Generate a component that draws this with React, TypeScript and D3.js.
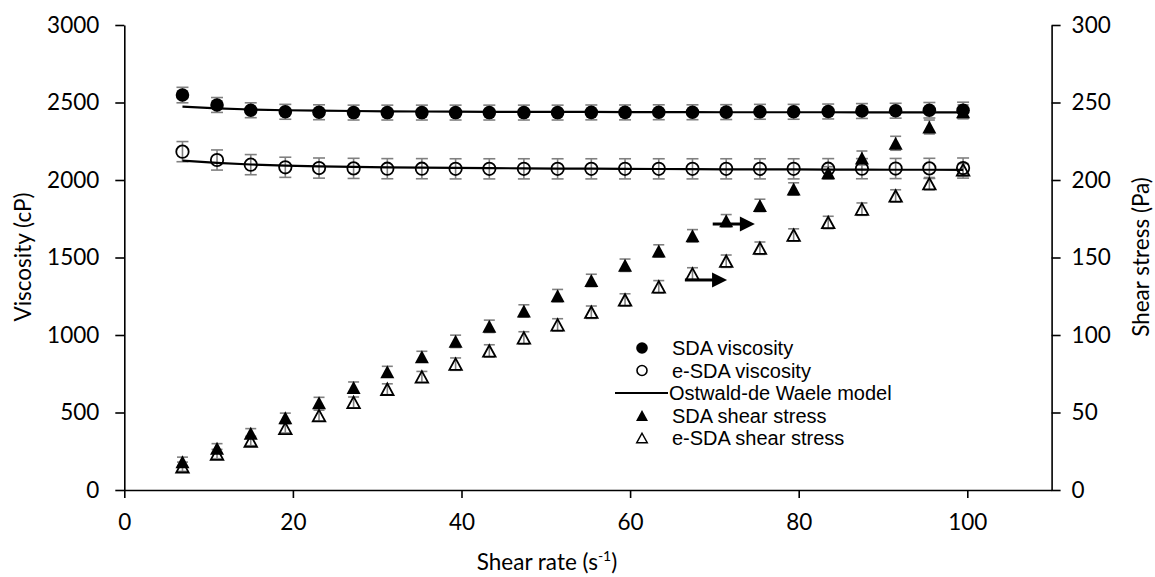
import React, { useEffect, useRef } from "react";
import * as d3 from "d3";

// ---------- data ----------
const shearRate = [6.9, 11.0, 15.0, 19.1, 23.1, 27.2, 31.2, 35.3, 39.3, 43.3, 47.4, 51.4, 55.4, 59.4, 63.4, 67.4, 71.4, 75.4, 79.4, 83.5, 87.5, 91.5, 95.5, 99.5];

const sdaViscosity = [2548, 2484, 2450, 2440, 2437, 2435, 2435, 2435, 2435, 2435, 2435, 2435, 2436, 2436, 2437, 2437, 2438, 2440, 2440, 2442, 2445, 2447, 2450, 2450];
const sdaViscosityErr = [50, 48, 48, 48, 48, 48, 48, 48, 48, 48, 48, 48, 48, 48, 48, 48, 48, 48, 48, 48, 48, 48, 50, 52];

const esdaViscosity = [2183, 2129, 2099, 2082, 2077, 2075, 2073, 2073, 2072, 2072, 2072, 2072, 2072, 2072, 2072, 2072, 2072, 2072, 2072, 2073, 2073, 2074, 2075, 2077];
const esdaViscosityErr = [65, 65, 65, 65, 65, 65, 65, 65, 65, 65, 65, 65, 65, 65, 65, 65, 65, 65, 65, 65, 65, 65, 65, 65];

const sdaModel = [2473, 2462, 2455, 2450, 2447, 2445, 2443, 2442, 2441, 2440, 2440, 2439, 2439, 2438, 2438, 2438, 2437, 2437, 2437, 2437, 2436, 2436, 2436, 2436];
const esdaModel = [2125, 2110, 2100, 2093, 2088, 2085, 2082, 2080, 2078, 2077, 2075, 2074, 2073, 2072, 2071, 2070, 2069, 2069, 2068, 2067, 2067, 2066, 2066, 2065];

const sdaStress = [18.2, 26.9, 36.6, 46.6, 56.3, 66.2, 76.3, 86.0, 95.9, 105.6, 115.5, 125.4, 135.2, 145.0, 154.2, 164.0, 173.7, 183.6, 194.2, 204.6, 214.2, 223.7, 234.2, 244.0];
const sdaStressErr = [3, 3, 3, 3, 3.5, 3.5, 3.5, 3.5, 4, 4, 4, 4, 4, 4, 4, 4, 4, 4, 4, 4, 4.5, 4.5, 4.5, 4.5];
const esdaStress = [15.0, 23.2, 31.6, 39.8, 48.0, 56.5, 65.0, 73.0, 81.2, 89.7, 98.1, 106.5, 114.7, 122.6, 131.1, 139.4, 147.6, 156.0, 164.5, 172.6, 181.2, 189.7, 197.6, 206.6];
const esdaStressErr = [3, 3, 3, 3, 3.5, 3.5, 3.5, 3.5, 4, 4, 4, 4, 4, 4, 4, 4, 4, 4, 4, 4, 4, 4, 4, 4];

// arrows pointing at the right axis: [x start, x tip, stress level]
const arrowStart = [69.8, 66.5];
const arrowTip = [74.8, 71.5];
const arrowLevel = [171.6, 135.5];

const xTicks = [0, 20, 40, 60, 80, 100];
const yLeftTicks = [0, 500, 1000, 1500, 2000, 2500, 3000];
const yRightTicks = [0, 50, 100, 150, 200, 250, 300];

const legendLabels = ["SDA viscosity", "e-SDA viscosity", "Ostwald-de Waele model", "SDA shear stress", "e-SDA shear stress"];

// ---------- layout ----------
const W = 1155;
const H = 577;
const FONT = "Lato, 'Noto Sans', sans-serif";
const LEG_FONT = "'Liberation Sans', Arial, sans-serif";
const FS = 22.5;
const LEG_FS = 20;

const x = d3.scaleLinear().domain([0, 110]).range([124.3, 1051.6]);
const yL = d3.scaleLinear().domain([0, 3000]).range([490, 25]);
const yR = d3.scaleLinear().domain([0, 300]).range([490, 25]);

const ERR = "#808080";

function tri(cx: number, cy: number, w = 14, h = 13) {
  return `M${cx},${cy - h / 2}L${cx + w / 2},${cy + h / 2}L${cx - w / 2},${cy + h / 2}Z`;
}

function ErrorBars({ ys, errs, scale, cap = 12 }: { ys: number[]; errs: number[]; scale: d3.ScaleLinear<number, number>; cap?: number }) {
  return (
    <g stroke={ERR} strokeWidth={1.6} fill="none">
      {ys.map((v, i) => {
        const cx = x(shearRate[i]);
        const y1 = scale(v + errs[i]);
        const y2 = scale(v - errs[i]);
        return (
          <g key={i}>
            <line x1={cx} x2={cx} y1={y1} y2={y2} />
            <line x1={cx - cap / 2} x2={cx + cap / 2} y1={y1} y2={y1} />
            <line x1={cx - cap / 2} x2={cx + cap / 2} y1={y2} y2={y2} />
          </g>
        );
      })}
    </g>
  );
}

export default function App() {
  const axRef = useRef<SVGGElement>(null);

  useEffect(() => {
    const g = d3.select(axRef.current);
    g.selectAll("*").remove();
    const style = (sel: any) => {
      sel.selectAll("path.domain").attr("stroke", "#000").attr("stroke-width", 1.6);
      sel.selectAll(".tick line").attr("stroke", "#000").attr("stroke-width", 1.6);
      sel.selectAll("text").attr("font-family", FONT).attr("font-size", FS).attr("fill", "#000");
    };
    const left = g.append("g").attr("transform", `translate(${x(0)},0)`)
      .call(d3.axisLeft(yL).tickValues(yLeftTicks).tickSize(9).tickSizeOuter(0).tickPadding(16).tickFormat(d3.format("d")));
    style(left);
    const right = g.append("g").attr("transform", `translate(${x(110)},0)`)
      .call(d3.axisRight(yR).tickValues(yRightTicks).tickSize(9).tickSizeOuter(0).tickPadding(11).tickFormat(d3.format("d")));
    style(right);
    const bottom = g.append("g").attr("transform", `translate(0,${yL(0)})`)
      .call(d3.axisBottom(x).tickValues(xTicks).tickSize(8).tickSizeOuter(0).tickPadding(16).tickFormat(d3.format("d")));
    style(bottom);
  }, []);

  const lineGen = (vals: number[]) =>
    d3.line<number>().x((_, i) => x(shearRate[i])).y((v) => yL(v))(vals) || "";

  const legendX = 642;
  const legendTextX = 672;
  const legendY0 = 348;
  const legendStep = 22.5;
  const ly = (i: number) => legendY0 + i * legendStep;

  return (
    <svg width={W} height={H} style={{ position: "absolute", left: 0, top: 0, background: "#fff" }} fontFamily={FONT}>
      <rect width={W} height={H} fill="#fff" />
      <g ref={axRef} />

      {/* error bars */}
      <ErrorBars ys={sdaViscosity} errs={sdaViscosityErr} scale={yL} />
      <ErrorBars ys={esdaViscosity} errs={esdaViscosityErr} scale={yL} />
      <ErrorBars ys={sdaStress} errs={sdaStressErr} scale={yR} cap={11} />
      <ErrorBars ys={esdaStress} errs={esdaStressErr} scale={yR} cap={11} />

      {/* model lines */}
      <path d={lineGen(sdaModel)} fill="none" stroke="#000" strokeWidth={2.2} />
      <path d={lineGen(esdaModel)} fill="none" stroke="#000" strokeWidth={2.2} />

      {/* markers */}
      {sdaViscosity.map((v, i) => (
        <circle key={"a" + i} cx={x(shearRate[i])} cy={yL(v)} r={6.8} fill="#000" />
      ))}
      {esdaViscosity.map((v, i) => (
        <circle key={"b" + i} cx={x(shearRate[i])} cy={yL(v)} r={6.2} fill="none" stroke="#000" strokeWidth={1.8} />
      ))}
      {sdaStress.map((v, i) => (
        <path key={"c" + i} d={tri(x(shearRate[i]), yR(v))} fill="#000" />
      ))}
      {esdaStress.map((v, i) => (
        <path key={"d" + i} d={tri(x(shearRate[i]), yR(v), 12.5, 11.5)} fill="none" stroke="#000" strokeWidth={1.8} strokeLinejoin="miter" />
      ))}

      {/* arrows */}
      {arrowStart.map((s, i) => {
        const y = yR(arrowLevel[i]);
        const xs = x(s);
        const xt = x(arrowTip[i]);
        return (
          <g key={"ar" + i}>
            <line x1={xs} x2={xt - 14} y1={y} y2={y} stroke="#000" strokeWidth={3} />
            <path d={`M${xt},${y}L${xt - 15},${y - 7.5}L${xt - 15},${y + 7.5}Z`} fill="#000" />
          </g>
        );
      })}

      {/* legend */}
      <g fill="#000">
        <circle cx={legendX} cy={ly(0)} r={5.8} fill="#000" />
        <circle cx={legendX} cy={ly(1)} r={5} fill="none" stroke="#000" strokeWidth={1.6} />
        <line x1={615} x2={668} y1={ly(2)} y2={ly(2)} stroke="#000" strokeWidth={2.2} />
        <path d={tri(legendX, ly(3), 12, 11)} fill="#000" />
        <path d={tri(legendX, ly(4), 10.5, 9.5)} fill="none" stroke="#000" strokeWidth={1.5} />
        {legendLabels.map((t, i) => (
          <text key={t} x={legendTextX - (i === 2 ? 3 : 0)} y={ly(i)} dy="0.35em" fontSize={LEG_FS} fontFamily={LEG_FONT}>{t}</text>
        ))}
      </g>

      {/* axis titles */}
      <text x={547} y={570} textAnchor="middle" fontSize={FS}>
        Shear rate (s<tspan fontSize={14} dy={-9}>-1</tspan><tspan dy={9}>)</tspan>
      </text>
      <text transform="translate(31,257) rotate(-90)" textAnchor="middle" fontSize={FS}>Viscosity (cP)</text>
      <text transform="translate(1149,257) rotate(-90)" textAnchor="middle" fontSize={FS}>Shear stress (Pa)</text>
    </svg>
  );
}
